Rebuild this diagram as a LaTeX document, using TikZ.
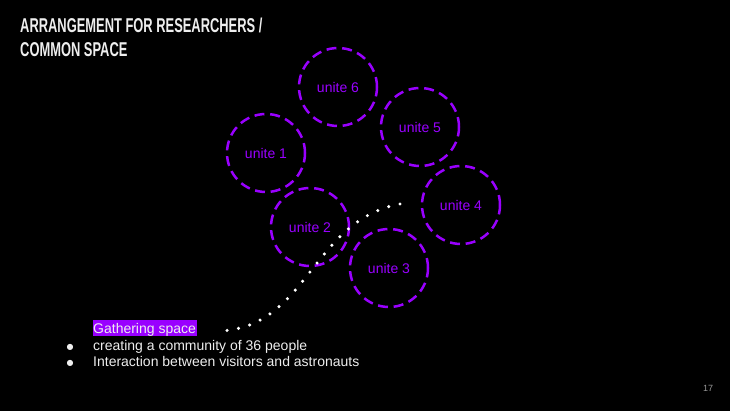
\documentclass[tikz,border=0pt]{standalone}
\usepackage{fontspec}
\setmainfont{Liberation Sans}
\newfontfamily\titlefont[FakeStretch=0.645]{Liberation Sans Bold}
\newfontfamily\symfont{DejaVu Sans}
\definecolor{vio}{HTML}{9900FF}
\definecolor{txt}{HTML}{EEEEEE}
\begin{document}
\begin{tikzpicture}[x=1pt,y=-1pt,
  unit/.style={circle, draw=vio, line width=2.5pt, dash pattern=on 10pt off 5.7pt,
    minimum size=78pt, inner sep=0pt, text=vio, font=\fontsize{14}{16}\selectfont},
  title/.style={anchor=base west, inner sep=0pt, text=txt, font=\titlefont\fontsize{20}{24}\selectfont},
  body/.style={anchor=base west, inner sep=0pt, text=txt, font=\fontsize{14}{16}\selectfont},
  bul/.style={anchor=base, inner sep=0pt, text=txt, font=\symfont\fontsize{8}{10}\selectfont},
  dotline/.style={draw=white, line width=3.4pt, line cap=round, dash pattern=on 0pt off 11.6pt}]
\fill[black] (0,0) rectangle (730,411);
\useasboundingbox (0,0) rectangle (730,411);
\node[title] (t1) at (20,32.7) {ARRANGEMENT FOR RESEARCHERS /};
\node[title] (t2) at (20,56.7) {COMMON SPACE};
\node[unit] (u6) at (338,87) {unite 6};
\node[unit] (u5) at (420,127) {unite 5};
\node[unit] (u1) at (266,153) {unite 1};
\node[unit] (u2) at (310,227) {unite 2};
\node[unit] (u4) at (461,205) {unite 4};
\node[unit] (u3) at (389,268) {unite 3};
\node[body, fill=vio, inner xsep=0.6pt, text height=13pt, text depth=3pt] (g) at (92.4,333.3) {Gathering space};
\node[bul] (b1) at (70,349.5) {●};
\node[body] (l1) at (93,350.7) {creating a community of 36 people};
\node[bul] (b2) at (70,365.5) {●};
\node[body] (l2) at (93,366.7) {Interaction between visitors and astronauts};
\node[anchor=base, inner sep=0pt, text=gray!80, font=\fontsize{9}{10}\selectfont] (pg) at (708,391) {17};
\coordinate (ds) at (400,204);
\coordinate (de) at (220,331);
\draw[dotline] (ds) .. controls (312,220) and (308,327) .. (de);
\end{tikzpicture}
\end{document}
